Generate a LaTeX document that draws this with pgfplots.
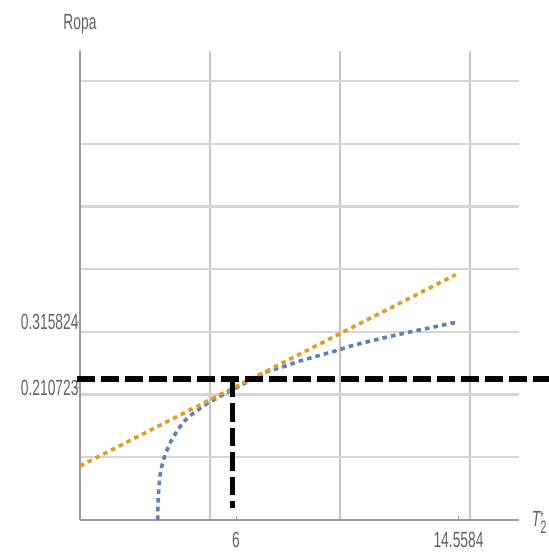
\documentclass[border=0pt]{standalone}
\usepackage{fontspec}
\setmainfont{Liberation Sans}
\usepackage{pgfplots}
\pgfplotsset{compat=1.18}

\definecolor{mblue}{HTML}{5E81B5}
\definecolor{morange}{HTML}{E19C24}
\definecolor{labelgray}{HTML}{626262}
\definecolor{axisgray}{HTML}{9A9A9A}
\definecolor{hgrid}{HTML}{D6D6D6}
\definecolor{vgrid}{HTML}{C4C4C4}

% narrow labels
\newcommand{\lbl}[1]{\scalebox{0.63}[1]{#1}}
\newcommand{\lblfont}{\fontsize{22}{24}\selectfont}

% blue curve: Ropa against T2*
\pgfplotstableread{
x        y
2.99     0.000
3.00     0.025
3.03     0.050
3.08     0.072
3.16     0.088
3.27     0.104
3.49     0.125
3.72     0.141
3.97     0.156
4.29     0.168
4.62     0.178
4.93     0.187
5.26     0.194
5.58     0.202
6.00     0.2107
6.60     0.224
7.18     0.2365
7.82     0.2445
8.46     0.2536
9.17     0.262
9.85     0.270
10.51    0.2786
11.18    0.2855
11.86    0.2923
12.81    0.301
13.53    0.307
14.19    0.313
14.5584  0.315824
}\bluecurve

% orange line
\pgfplotstableread{
x        y
0        0.0861
14.45    0.3912
}\orangeline

\begin{document}
\begin{tikzpicture}
\begin{axis}[
  x=26bp, y=627bp,
  xmin=0, xmax=16.88, ymin=0, ymax=0.748,
  axis x line=bottom, axis y line=left,
  axis line style={-, draw=axisgray, line width=1.1bp},
  xtick={5,10,15},
  ytick={0.1,0.2,0.3,0.4,0.5,0.6,0.7},
  xticklabels={}, yticklabels={},
  major tick length=0pt,
  grid=major,
  x grid style={draw=vgrid, line width=1.1bp},
  y grid style={draw=hgrid, line width=2.2bp},
  extra x ticks={6,14.5584},
  extra x tick labels={\lbl{6},\lbl{14.5584}},
  extra y ticks={0.210723,0.315824},
  extra y tick labels={\lbl{0.210723},\lbl{0.315824}},
  extra tick style={grid=none, major tick length=4bp,
    tick style={draw=axisgray, line width=0.8bp}},
  extra x tick style={tick align=inside,
    xticklabel style={yshift=-9bp}},
  extra y tick style={tick align=outside,
    yticklabel style={xshift=6bp}},
  ticklabel style={font=\lblfont, text=labelgray},
  clip=false,
]
\coordinate (O) at (axis cs:0,0);

\addplot[mblue, line width=3.6bp, line cap=butt,
  dash pattern=on 4.6bp off 4.1bp] table {\bluecurve};
\addplot[morange, line width=3.6bp, line cap=butt,
  dash pattern=on 4.6bp off 4.1bp] table {\orangeline};

% reference lines
\addplot[black, line width=6bp, line cap=butt,
  dash pattern=on 18.4bp off 5.6bp] coordinates {(-0.12,0.2249) (18.1,0.2249)};
\addplot[black, line width=5.6bp, line cap=butt,
  dash pattern=on 18.4bp off 6bp] coordinates {(5.87,0.2249) (5.87,0.0191)};

\node[anchor=base, text=labelgray, font=\lblfont] at (axis cs:0,0.7826) {\lbl{Ropa}};
\node[anchor=base west, text=labelgray, font=\lblfont, inner sep=0pt]
  at (axis cs:17.37,-0.0107)
  {\lbl{\itshape T\upshape\rlap{\raisebox{5bp}{\fontsize{14}{14}\selectfont *}}\raisebox{-6.5bp}{\fontsize{18}{20}\selectfont 2}}};
\end{axis}
\pgfresetboundingbox
\path[use as bounding box, shift={(O)}] (-80bp,-37bp) rectangle (469bp,520bp);
\end{tikzpicture}
\end{document}
